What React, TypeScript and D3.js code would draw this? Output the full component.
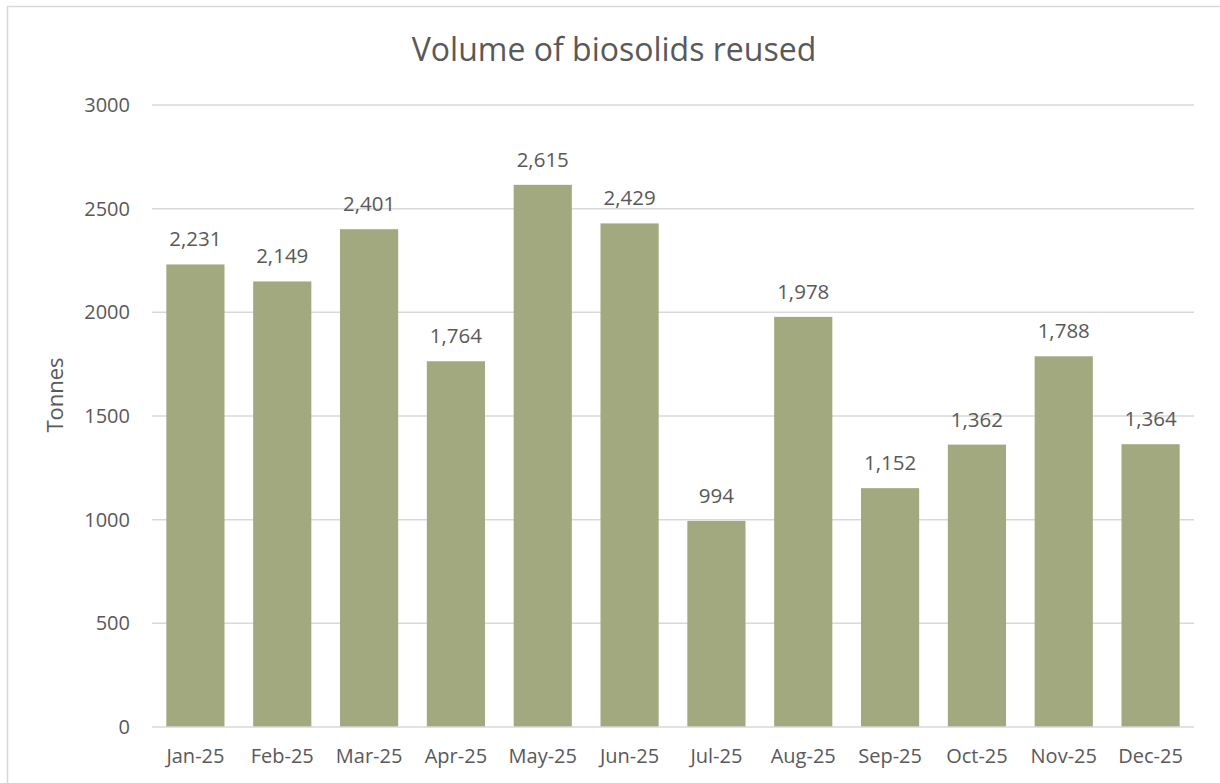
import * as d3 from "d3";

const months = ["Jan-25", "Feb-25", "Mar-25", "Apr-25", "May-25", "Jun-25", "Jul-25", "Aug-25", "Sep-25", "Oct-25", "Nov-25", "Dec-25"];
const tonnes = [2231, 2149, 2401, 1764, 2615, 2429, 994, 1978, 1152, 1362, 1788, 1364];
const yTicks = [0, 500, 1000, 1500, 2000, 2500, 3000];

const W = 1220;
const H = 783;
const FONT = "'Open Sans', 'Noto Sans', sans-serif";
const TEXT = "#595959";
const GRID = "#d9d9d9";
const BAR = "#a3a97e";

export default function App() {
  const margin = { top: 105, right: 26, bottom: 56, left: 152 };
  const x = d3
    .scaleBand<string>()
    .domain(months)
    .range([margin.left, W - margin.right])
    .paddingInner(0.33)
    .paddingOuter(0.165);
  const y = d3.scaleLinear().domain([0, 3000]).range([H - margin.bottom, margin.top]);
  const fmt = d3.format(",");

  return (
    <svg
      width={W}
      height={H}
      style={{ position: "absolute", left: 0, top: 0, background: "#fff" }}
      fontFamily={FONT}
    >
      <rect x={7.5} y={6.5} width={W + 10} height={H + 10} fill="#fff" stroke={GRID} strokeWidth={1.5} />

      <text x={614} y={61} textAnchor="middle" fontSize={32} fill={TEXT}>
        Volume of biosolids reused
      </text>

      {/* grid */}
      {yTicks.map((t) => (
        <g key={t}>
          {t > 0 && (
            <line x1={margin.left} x2={W - margin.right} y1={y(t)} y2={y(t)} stroke={GRID} strokeWidth={1.5} />
          )}
          <text x={130} y={y(t)} dy="0.35em" textAnchor="end" fontSize={20} fill={TEXT}>
            {t}
          </text>
        </g>
      ))}

      {/* bars */}
      {months.map((m, i) => (
        <g key={m}>
          <rect x={x(m)!} y={y(tonnes[i])} width={x.bandwidth()} height={y(0) - y(tonnes[i])} fill={BAR} />
          <text x={x(m)! + x.bandwidth() / 2} y={y(tonnes[i]) - 18} textAnchor="middle" fontSize={20.5} fill={TEXT}>
            {fmt(tonnes[i])}
          </text>
          <text x={x(m)! + x.bandwidth() / 2} y={763} textAnchor="middle" fontSize={20} fill={TEXT}>
            {m}
          </text>
        </g>
      ))}

      {/* baseline */}
      <line x1={margin.left} x2={W - margin.right} y1={y(0)} y2={y(0)} stroke={GRID} strokeWidth={1.5} />

      <text transform={`translate(63,395) rotate(-90)`} textAnchor="middle" fontSize={22} fill={TEXT}>
        Tonnes
      </text>
    </svg>
  );
}
